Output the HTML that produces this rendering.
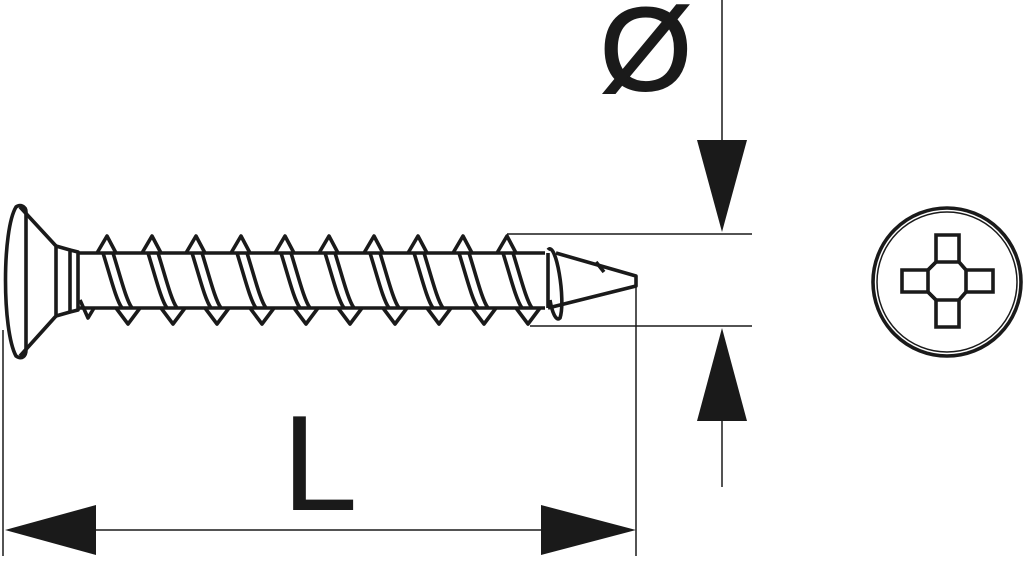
<!DOCTYPE html>
<html><head><meta charset="utf-8"><style>html,body{margin:0;padding:0;background:#fff}svg{display:block}</style></head>
<body>
<svg width="1024" height="562" viewBox="0 0 1024 562" xmlns="http://www.w3.org/2000/svg">
<g fill="none" stroke="#1a1a1a" stroke-width="3.6" stroke-linejoin="round">
<!-- head -->
<path d="M16,207 C2,230 2,330 16,356 C22,360 26,356 26,350 L26,212 C26,206 20,204 16,207 Z"/>
<path d="M20,207 L56,246 L56,316 L20,356"/>
<path d="M56,246 L70,250 L70,312 L56,316"/>
<path d="M70,250 L78,252 L78,310 L70,312"/>
<!-- shank -->
<line x1="78" y1="253" x2="545" y2="253"/>
<line x1="78" y1="308" x2="545" y2="308"/>
<line x1="548" y1="253" x2="548" y2="308"/>
<!-- tip -->
<path d="M556,253 L636,276 L636,286 L548,308"/>
<path d="M548,250 C556,240 566,300 560,318 C556,322 552,312 550,300"/>
<path d="M596,262 L604,272"/>
<!-- threads -->
<g id="t">
<path d="M97,253 L107,236 L116,253"/>
<path d="M103,253 C110,275 116,300 122,308"/>
<path d="M113,253 C120,275 126,300 132,308"/>
<path d="M116,308 L128,324 L140,308"/>
</g>
<use href="#t" x="45"/><use href="#t" x="89"/><use href="#t" x="134"/><use href="#t" x="178"/>
<use href="#t" x="222"/><use href="#t" x="267"/><use href="#t" x="311"/><use href="#t" x="356"/><use href="#t" x="400"/>
<path d="M80,300 L88,318 L94,308"/>
</g>
<!-- dimension lines -->
<g stroke="#1a1a1a" stroke-width="1.5">
<line x1="3" y1="330" x2="3" y2="556"/>
<line x1="636" y1="282" x2="636" y2="556"/>
<line x1="90" y1="530" x2="545" y2="530"/>
<line x1="507" y1="234" x2="752" y2="234"/>
<line x1="530" y1="326" x2="752" y2="326"/>
<line x1="722" y1="0" x2="722" y2="145"/>
<line x1="722" y1="415" x2="722" y2="487"/>
</g>
<g fill="#1a1a1a">
<polygon points="5,530 96,505 96,555"/>
<polygon points="636,530 541,505 541,555"/>
<polygon points="697,140 747,140 722,232"/>
<polygon points="697,421 747,421 722,328"/>
</g>
<text x="282" y="510" font-family="Liberation Sans, sans-serif" font-size="136" fill="#1a1a1a">L</text>
<text x="600" y="90" font-family="Liberation Sans, sans-serif" font-size="118" fill="#1a1a1a" stroke="#1a1a1a" stroke-width="2">Ø</text>
<!-- head view -->
<g fill="none" stroke="#1a1a1a" stroke-width="3.6">
<circle cx="947" cy="282" r="74"/>
<circle cx="947" cy="282" r="70" stroke-width="1.5"/>
<path d="M936,235 L959,235 L959,262 L966,270 L993,270 L993,292 L966,292 L959,300 L959,327 L936,327 L936,300 L928,292 L902,292 L902,270 L928,270 L936,262 Z"/>
<path d="M936,262 L959,262 L966,270 L966,292 L959,300 L936,300 L928,292 L928,270 Z"/>
</g>
</svg>
</body></html>
